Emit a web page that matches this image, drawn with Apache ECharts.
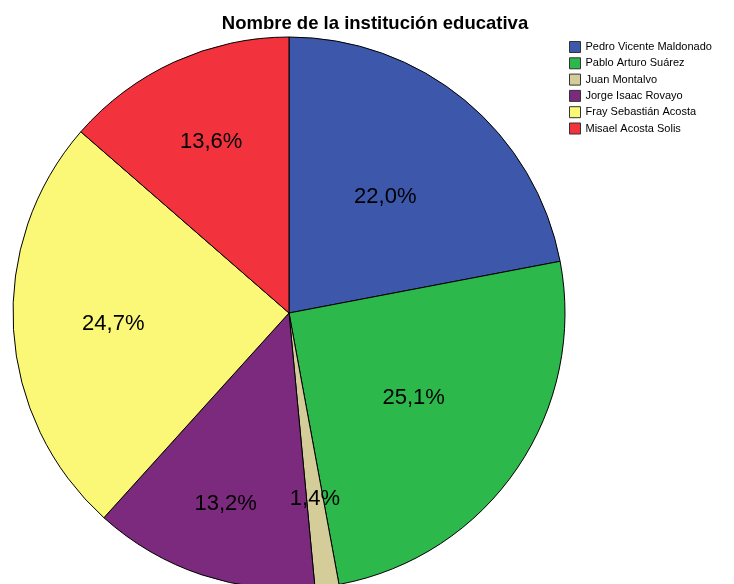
<!DOCTYPE html>
<html>
<head>
<meta charset="utf-8">
<script src="https://cdn.jsdelivr.net/npm/echarts@6/dist/echarts.min.js"></script>
<style>html,body{margin:0;padding:0;background:#fff}#c{width:734px;height:584px}</style>
</head>
<body>
<div id="c"></div>
<script>
var categories = ['Pedro Vicente Maldonado','Pablo Arturo Suárez','Juan Montalvo','Jorge Isaac Rovayo','Fray Sebastián Acosta','Misael Acosta Solis'];
var values = [22.0, 25.1, 1.4, 13.2, 24.7, 13.6];
var colors = ['#3D58AB','#2DB84B','#D4CC99','#7B2A7E','#FBF777','#F2333D'];

var chart = echarts.init(document.getElementById('c'));
var data = categories.map(function(n,i){return {name:n, value:values[i], itemStyle:{color:colors[i]}};});
var labelStyle = {position:'inside', fontFamily:'Liberation Sans, Arial', fontSize:22, color:'#000',
  formatter:function(p){return p.value.toFixed(1).replace('.',',')+'%';}};
// label placement: relative radius of an invisible helper ring per slice
var labelRing = [296, 296, 370, 396, 346, 370];
function overlay(k){
  return {
    type:'pie', center:[289,313], radius:[0,labelRing[k]], startAngle:90, clockwise:true,
    silent:true, legendHoverLink:false,
    itemStyle:{color:'rgba(0,0,0,0)', borderWidth:0},
    label:labelStyle, labelLine:{show:false}, emphasis:{disabled:true},
    data:categories.map(function(n,i){return {name:n+'#'+k, value:values[i], label:{show:i===k}};})
  };
}
var series = [{
    type:'pie', center:[289,313], radius:[0,276], startAngle:90, clockwise:true,
    itemStyle:{borderColor:'#000', borderWidth:1},
    label:{show:false}, labelLine:{show:false}, emphasis:{disabled:true},
    data:data
  }];
for (var k=0;k<categories.length;k++) series.push(overlay(k));
chart.setOption({
  animation:false,
  title:{text:'Nombre de la institución educativa', left:370, textAlign:'center', top:9,
    textStyle:{fontFamily:'Liberation Sans, Arial', fontSize:18.5, fontWeight:'bold', color:'#000'}},
  legend:{orient:'vertical', left:564, top:36, itemWidth:11, itemHeight:11, itemGap:4.3,
    icon:'rect', textStyle:{fontFamily:'Liberation Sans, Arial', fontSize:11, color:'#000'},
    data:categories.map(function(n,i){return {name:n, itemStyle:{borderColor:'#333', borderWidth:1}};})},
  series:series
});
</script>
</body>
</html>
